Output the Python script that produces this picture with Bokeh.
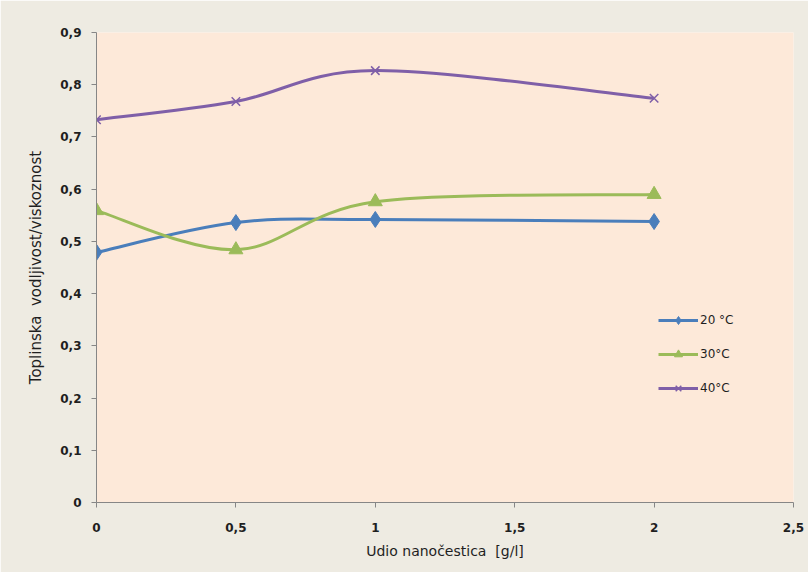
from bokeh.plotting import figure
from bokeh.models import CustomJSTickFormatter, Legend, LegendItem, FixedTicker, Range1d
from bokeh.embed import file_html
from bokeh.resources import INLINE

x_vals = [0, 0.5, 1, 2]
t20 = [0.479, 0.536, 0.542, 0.538]
t30 = [0.559, 0.484, 0.576, 0.590]
t40 = [0.733, 0.768, 0.827, 0.774]
series_labels = ["20 °C", "30°C", "40°C"]
x_ticks = [0, 0.5, 1, 1.5, 2, 2.5]
y_ticks = [0, 0.1, 0.2, 0.3, 0.4, 0.5, 0.6, 0.7, 0.8, 0.9]
x_title = "Udio nanočestica\u00a0 [g/l]"
y_title = "Toplinska\u00a0 vodljivost/viskoznost"

colors = ["#4a7ebb", "#9bbb59", "#7f5fa8"]
markers = ["diamond", "triangle", "x"]
msizes = [16, 14, 12]

p = figure(width=808, height=572, output_backend="svg", toolbar_location=None,
           x_range=Range1d(0, 2.5), y_range=Range1d(0, 0.9),
           min_border_left=96, min_border_top=32, min_border_right=15, min_border_bottom=70)
p.background_fill_color = "#fde9d9"
p.border_fill_color = "#eeebe2"
p.outline_line_color = None
p.xgrid.visible = False
p.ygrid.visible = False

fmt = CustomJSTickFormatter(code="return String(Math.round(tick*10)/10).replace('.', ',');")
for ax in (p.xaxis[0], p.yaxis[0]):
    ax.formatter = fmt
    ax.axis_line_color = "#868686"
    ax.major_tick_line_color = "#868686"
    ax.minor_tick_line_color = None
    ax.major_tick_in = 0
    ax.major_tick_out = 5
    ax.major_label_text_font = "DejaVu Sans"
    ax.major_label_text_font_style = "bold"
    ax.major_label_text_font_size = "12px"
    ax.major_label_text_color = "#1f1f1f"
    ax.axis_label_text_font = "DejaVu Sans"
    ax.axis_label_text_font_style = "normal"
    ax.axis_label_text_font_size = "14px"
    ax.axis_label_text_color = "#1f1f1f"
p.xaxis[0].ticker = FixedTicker(ticks=x_ticks)
p.yaxis[0].ticker = FixedTicker(ticks=y_ticks)
p.xaxis[0].major_label_standoff = 15
p.yaxis[0].major_label_standoff = 10
p.xaxis[0].axis_label = x_title
p.yaxis[0].axis_label = y_title
p.xaxis[0].axis_label_standoff = 8
p.yaxis[0].axis_label_standoff = 12
p.yaxis[0].axis_label_text_font_size = "15px"


def smooth_segments(xs, ys):
    n = len(xs)
    out = dict(x0=[], y0=[], x1=[], y1=[], cx0=[], cy0=[], cx1=[], cy1=[])
    for i in range(n - 1):
        ip = max(i - 1, 0)
        inx = min(i + 2, n - 1)
        out["x0"].append(xs[i]); out["y0"].append(ys[i])
        out["x1"].append(xs[i + 1]); out["y1"].append(ys[i + 1])
        out["cx0"].append(xs[i] + (xs[i + 1] - xs[ip]) / 6)
        out["cy0"].append(ys[i] + (ys[i + 1] - ys[ip]) / 6)
        out["cx1"].append(xs[i + 1] - (xs[inx] - xs[i]) / 6)
        out["cy1"].append(ys[i + 1] - (ys[inx] - ys[i]) / 6)
    return out


items = []
for ys, col, mk, ms, lab in zip([t20, t30, t40], colors, markers, msizes, series_labels):
    seg = smooth_segments(x_vals, ys)
    p.bezier(x0=seg["x0"], y0=seg["y0"], x1=seg["x1"], y1=seg["y1"],
             cx0=seg["cx0"], cy0=seg["cy0"], cx1=seg["cx1"], cy1=seg["cy1"],
             line_color=col, line_width=3)
    if mk == "x":
        sc = p.scatter(x=x_vals, y=ys, marker=mk, size=ms, line_color=col, line_width=1.5)
    else:
        sc = p.scatter(x=x_vals, y=ys, marker=mk, size=ms, fill_color=col, line_color=col)
    leg_ln = p.line(x=[x_vals[0]], y=[ys[0]], line_color=col, line_width=3, visible=False)
    items.append(LegendItem(label=lab, renderers=[leg_ln, sc]))

legend = Legend(items=items, location=(562, 104))
legend.background_fill_alpha = 0
legend.border_line_color = None
legend.label_text_font = "DejaVu Sans"
legend.label_text_font_size = "12px"
legend.label_text_color = "#1f1f1f"
legend.glyph_width = 40
legend.glyph_height = 20
legend.spacing = 14
legend.padding = 0
legend.margin = 0
legend.label_standoff = 2
p.add_layout(legend, "center")

open("out.html", "w").write(file_html(p, INLINE))
